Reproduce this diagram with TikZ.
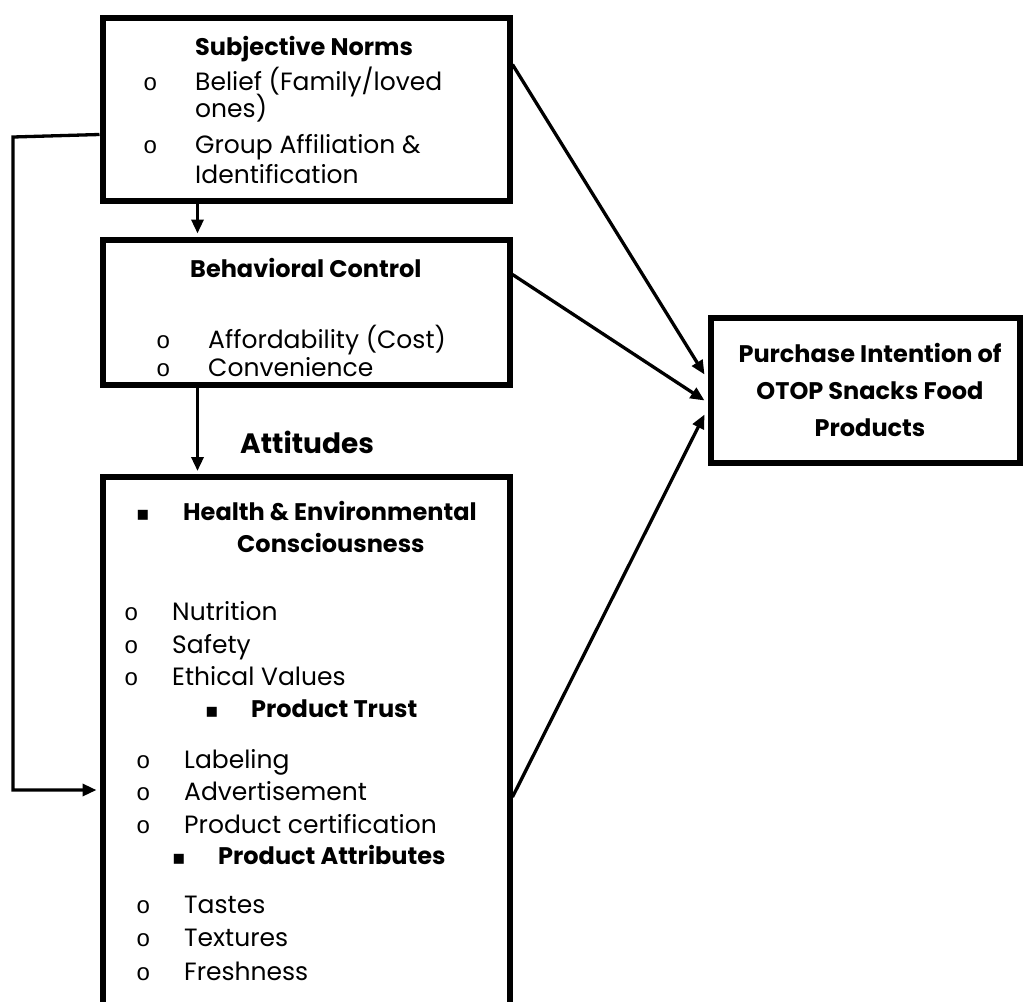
\documentclass[tikz,border=0pt]{standalone}
\usepackage{fontspec}
\setmainfont{Poppins}
\newfontfamily\dejavu{DejaVu Sans}
\newfontfamily\monofam{Liberation Mono}
\usetikzlibrary{arrows.meta,calc}
\begin{document}
\begin{tikzpicture}[x=1pt,y=-1pt,
  box/.style={draw,line width=6pt,inner sep=0pt},
  txt/.style={anchor=base west,inner sep=0pt,font=\fontsize{25}{29}\selectfont},
  btxt/.style={anchor=base west,inner sep=0pt,font=\fontsize{24}{28}\selectfont\bfseries},
  obul/.style={anchor=base west,inner sep=0pt,font=\monofam\fontsize{24}{28}\selectfont},
  sbul/.style={anchor=base west,inner sep=0pt,font=\dejavu\fontsize{20}{24}\selectfont},
  arr/.style={line width=3.3pt,-{Triangle[length=14pt,width=12pt]}}
]
\clip (0,0) rectangle (1027,1001);
% boxes
\node[box,minimum width=407pt,minimum height=183pt] (sn) at (306,109) {};
\node[box,minimum width=407pt,minimum height=145pt] (bc) at (306,312) {};
\node[box,minimum width=407pt,minimum height=543pt] (at) at (306,748.5) {};
\node[box,minimum width=309pt,minimum height=145pt] (pi) at (865,390) {};
% box 1 text
\node[btxt] (t1) at (195,55) {Subjective Norms};
\node[obul] (o11) at (143,90) {o};
\node[txt] (t11) at (195,90) {Belief (Family/loved};
\node[txt] (t12) at (195,117) {ones)};
\node[obul] (o13) at (143,153) {o};
\node[txt] (t13) at (195,153) {Group Affiliation \&};
\node[txt] (t14) at (195,183) {Identification};
% box 2 text
\node[btxt] (t2) at (190,277) {Behavioral Control};
\node[obul] (o21) at (156,348) {o};
\node[txt] (t21) at (208,348) {Affordability (Cost)};
\node[obul] (o22) at (156,376) {o};
\node[txt] (t22) at (208,376) {Convenience};
% attitudes label
\node[anchor=base west,inner sep=0pt,font=\fontsize{28}{32}\selectfont\bfseries] (att) at (240,453) {Attitudes};
% box 3 text
\node[sbul] (s31) at (136,520) {▪};
\node[btxt] (t31) at (183,520) {Health \& Environmental};
\node[btxt] (t32) at (237,552) {Consciousness};
\node[obul] (o33) at (124,620) {o};
\node[txt] (t33) at (172,620) {Nutrition};
\node[obul] (o34) at (124,653) {o};
\node[txt] (t34) at (172,653) {Safety};
\node[obul] (o35) at (124,685) {o};
\node[txt] (t35) at (172,685) {Ethical Values};
\node[sbul] (s36) at (205,717) {▪};
\node[btxt] (t36) at (251,717) {Product Trust};
\node[obul] (o37) at (136,768) {o};
\node[txt] (t37) at (184,768) {Labeling};
\node[obul] (o38) at (136,800) {o};
\node[txt] (t38) at (184,800) {Advertisement};
\node[obul] (o39) at (136,833) {o};
\node[txt] (t39) at (184,833) {Product certification};
\node[sbul] (s310) at (172,864) {▪};
\node[btxt] (t310) at (218,864) {Product Attributes};
\node[obul] (o311) at (136,913) {o};
\node[txt] (t311) at (184,913) {Tastes};
\node[obul] (o312) at (136,946) {o};
\node[txt] (t312) at (184,946) {Textures};
\node[obul] (o313) at (136,980) {o};
\node[txt] (t313) at (184,980) {Freshness};
% box 4 text
\node[inner sep=0pt,align=center,font=\fontsize{24}{37}\selectfont\bfseries] (t4) at (870,390) {Purchase Intention of\\OTOP Snacks Food\\Products};
% connectors
\draw[arr] ($(sn.south west)+(98,0)$) -- ($(bc.north west)+(98,-3)$);
\draw[arr] ($(bc.south west)+(98,0)$) -- ($(at.north west)+(98,-3)$);
\coordinate (lc) at (13,137);
\draw[arr] ($(sn.north west)+(0,120)$) -- (lc) |- ($(at.north west)+(-3,316)$);
\draw[arr] ($(sn.north east)+(0,50)$) -- ($(pi.north west)+(-3,60)$);
\draw[arr] ($(bc.north east)+(0,38)$) -- ($(pi.north west)+(-3,86)$);
\draw[arr] ($(at.north east)+(0,323)$) -- ($(pi.north west)+(-3,100)$);
\end{tikzpicture}
\end{document}
